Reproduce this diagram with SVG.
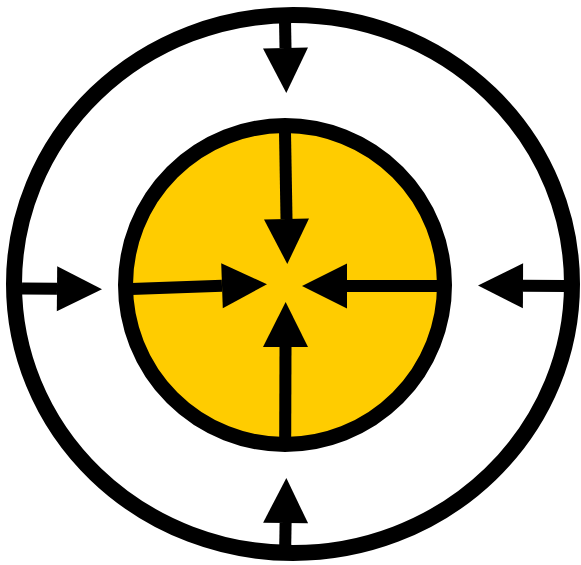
<svg xmlns="http://www.w3.org/2000/svg" width="581" height="565" viewBox="0 0 581 565">
<style>
.ring{stroke:#000;stroke-width:16}
.shaft{stroke:#000;stroke-width:12;fill:none;marker-end:url(#ah)}
</style>
<defs>
<marker id="ah" markerUnits="userSpaceOnUse" markerWidth="46" markerHeight="46" refX="0" refY="22.5" orient="auto" overflow="visible">
<path d="M0,0 L45,22.5 L0,45 Z" fill="#000"/>
</marker>
</defs>
<rect width="581" height="565" fill="#fff"/>
<g id="outer">
<ellipse class="ring" cx="293" cy="284" rx="279" ry="269" fill="#fff"/>
</g>
<g id="inner">
<circle class="ring" cx="285" cy="285" r="159.5" fill="#FFCC00" style="stroke-width:15"/>
</g>
<g id="connectors">
<line class="shaft" x1="285" y1="20" x2="285.5" y2="48"/>
<line class="shaft" x1="22" y1="288.5" x2="57" y2="288.8"/>
<line class="shaft" x1="566" y1="286" x2="523" y2="285.8"/>
<line class="shaft" x1="285.2" y1="547" x2="285.6" y2="523"/>
<line class="shaft" x1="285" y1="132" x2="286.5" y2="219"/>
<line class="shaft" x1="131" y1="289" x2="222" y2="285.8"/>
<line class="shaft" x1="439" y1="286" x2="347" y2="286"/>
<line class="shaft" x1="285.2" y1="439" x2="285.5" y2="347"/>
</g>
</svg>
